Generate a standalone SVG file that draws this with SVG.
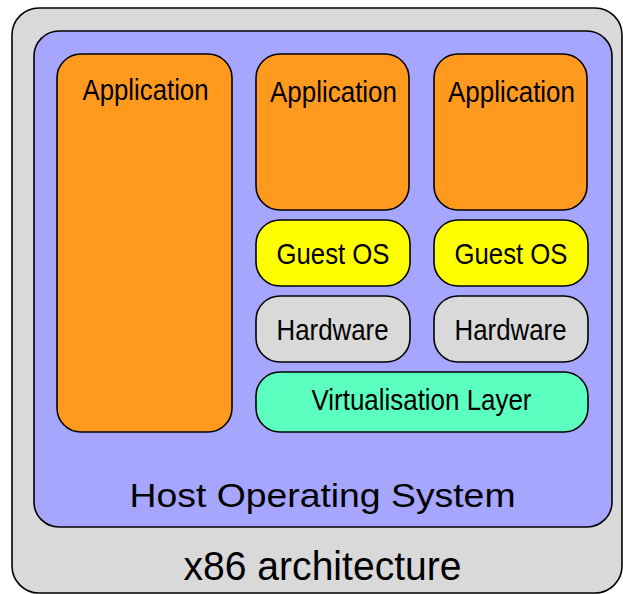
<svg xmlns="http://www.w3.org/2000/svg" width="623" height="594" viewBox="0 0 623 594">
  <style>
    .box { stroke: #000; stroke-width: 1.6; }
    .hw { fill: #d9d9d9; }
    .host { fill: #a6a6ff; }
    .app { fill: #ff9a1f; }
    .guest { fill: #ffff00; }
    .virt { fill: #5bffc0; }
    text { font-family: "Liberation Sans", Arial, sans-serif; fill: #000; text-anchor: middle; }
  </style>
  <rect width="623" height="594" fill="#fff"/>

  <g id="x86">
    <rect class="box hw" x="12" y="8" width="610" height="585" rx="27"/>
    <text x="322.5" y="579.5" font-size="40" textLength="278" lengthAdjust="spacingAndGlyphs">x86 architecture</text>
  </g>

  <g id="host-os">
    <rect class="box host" x="34" y="31" width="578" height="496" rx="25"/>
    <text x="322.5" y="507" font-size="34" textLength="386" lengthAdjust="spacingAndGlyphs">Host Operating System</text>
  </g>

  <g id="app-native">
    <rect class="box app" x="57" y="54" width="175" height="378" rx="24"/>
    <text x="145.5" y="99.5" font-size="29" textLength="126" lengthAdjust="spacingAndGlyphs">Application</text>
  </g>

  <g id="app-guest-1">
    <rect class="box app" x="256" y="54" width="153" height="156" rx="24"/>
    <text x="333.5" y="101.5" font-size="29" textLength="127" lengthAdjust="spacingAndGlyphs">Application</text>
  </g>

  <g id="app-guest-2">
    <rect class="box app" x="434" y="54" width="153" height="156" rx="24"/>
    <text x="511.5" y="101.5" font-size="29" textLength="127" lengthAdjust="spacingAndGlyphs">Application</text>
  </g>

  <g id="guest-os-1">
    <rect class="box guest" x="256" y="220" width="154" height="66" rx="24"/>
    <text x="333" y="264" font-size="29" textLength="113" lengthAdjust="spacingAndGlyphs">Guest OS</text>
  </g>

  <g id="guest-os-2">
    <rect class="box guest" x="434" y="220" width="154" height="66" rx="24"/>
    <text x="511" y="264" font-size="29" textLength="113" lengthAdjust="spacingAndGlyphs">Guest OS</text>
  </g>

  <g id="hardware-1">
    <rect class="box hw" x="256" y="296" width="154" height="66" rx="24"/>
    <text x="332.5" y="339.5" font-size="29" textLength="112" lengthAdjust="spacingAndGlyphs">Hardware</text>
  </g>

  <g id="hardware-2">
    <rect class="box hw" x="434" y="296" width="154" height="66" rx="24"/>
    <text x="510.5" y="339.5" font-size="29" textLength="112" lengthAdjust="spacingAndGlyphs">Hardware</text>
  </g>

  <g id="virtualisation-layer">
    <rect class="box virt" x="256" y="372" width="332" height="60" rx="24"/>
    <text x="421.5" y="410" font-size="29" textLength="220" lengthAdjust="spacingAndGlyphs">Virtualisation Layer</text>
  </g>

  <g id="connectors"/>
</svg>
